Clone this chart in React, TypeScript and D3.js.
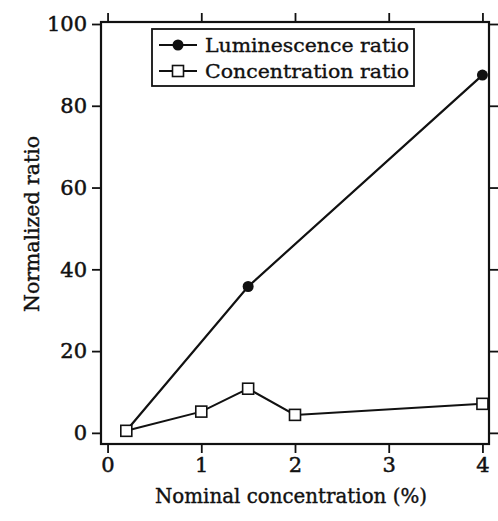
import {useEffect, useRef} from "react";
import * as d3 from 'd3';

// values
const lumX = [0.2, 1.5, 4];
const lumY = [0.5, 35.8, 87.5];
const concX = [0.2, 1, 1.5, 2, 4];
const concY = [0.5, 5.2, 10.8, 4.4, 7.1];
const xTicks = [0, 1, 2, 3, 4];
const yTicks = [0, 20, 40, 60, 80, 100];
const legendLabels = ["Luminescence ratio", "Concentration ratio"];

export default function App() {
  const svgRef = useRef<SVGSVGElement>(null);
  const width = 498;
  const height = 521;

  useEffect(() => {
    d3.select(svgRef.current).selectAll('*').remove();
    const svg = d3.select(svgRef.current);

    const left = 101, right = 489, top = 22, bottom = 444;
    const font = '"DejaVu Serif", "Liberation Serif", serif';
    const ink = '#111';

    const x = d3.scaleLinear().domain([-0.07, 4.07]).range([left, right]);
    const y = d3.scaleLinear().domain([-2.6, 100]).range([443.5, 24]);

    // frame
    svg.append('rect')
      .attr('x', left).attr('y', top)
      .attr('width', right - left).attr('height', bottom - top)
      .attr('fill', 'none').attr('stroke', ink).attr('stroke-width', 2.2);

    const g = svg.append('g');

    const xb = g.append('g').attr('transform', `translate(0,${bottom})`)
      .call(d3.axisBottom(x).tickValues(xTicks).tickSize(9).tickPadding(4).tickFormat(d3.format('d')));
    const xt = g.append('g').attr('transform', `translate(0,${top})`)
      .call(d3.axisTop(x).tickValues(xTicks).tickSize(9).tickFormat(() => ''));
    const yl = g.append('g').attr('transform', `translate(${left},0)`)
      .call(d3.axisLeft(y).tickValues(yTicks).tickSize(9).tickPadding(5));
    const yr = g.append('g').attr('transform', `translate(${right},0)`)
      .call(d3.axisRight(y).tickValues(yTicks).tickSize(9).tickFormat(() => ''));

    [xb, xt, yl, yr].forEach(a => {
      a.select('.domain').remove();
      a.selectAll('line').attr('stroke', ink).attr('stroke-width', 1.8);
      a.selectAll('text').attr('fill', ink)
        .attr('stroke', ink).attr('stroke-width', 0.5)
        .style('font-family', font).style('font-size', '21px');
    });

    // axis titles
    svg.append('text')
      .attr('x', 291).attr('y', 503)
      .attr('text-anchor', 'middle')
      .style('font-family', font).style('font-size', '20px')
      .attr('fill', ink).attr('stroke', ink).attr('stroke-width', 0.4)
      .attr('textLength', 272).attr('lengthAdjust', 'spacingAndGlyphs')
      .text('Nominal concentration (%)');
    svg.append('text')
      .attr('transform', `translate(39,224) rotate(-90)`)
      .attr('text-anchor', 'middle')
      .style('font-family', font).style('font-size', '20px')
      .attr('fill', ink).attr('stroke', ink).attr('stroke-width', 0.4)
      .attr('textLength', 176).attr('lengthAdjust', 'spacingAndGlyphs')
      .text('Normalized ratio');

    const line = d3.line<[number, number]>();

    // luminescence series
    const lumPts: [number, number][] = lumX.map((v, i) => [x(v), y(lumY[i])]);
    svg.append('path')
      .attr('d', line(lumPts))
      .attr('fill', 'none').attr('stroke', ink).attr('stroke-width', 2.2);
    svg.selectAll('.lum').data(lumPts).enter().append('circle')
      .attr('cx', d => d[0]).attr('cy', d => d[1]).attr('r', 5.5)
      .attr('fill', ink);

    // concentration series
    const concPts: [number, number][] = concX.map((v, i) => [x(v), y(concY[i])]);
    svg.append('path')
      .attr('d', line(concPts))
      .attr('fill', 'none').attr('stroke', ink).attr('stroke-width', 2);
    svg.selectAll('.conc').data(concPts).enter().append('rect')
      .attr('x', d => d[0] - 5.5).attr('y', d => d[1] - 5.5)
      .attr('width', 11).attr('height', 11)
      .attr('fill', 'white').attr('stroke', ink).attr('stroke-width', 1.6);

    // legend
    const lg = svg.append('g');
    lg.append('rect')
      .attr('x', 152).attr('y', 29).attr('width', 262).attr('height', 57)
      .attr('fill', 'white').attr('stroke', ink).attr('stroke-width', 1.8);
    legendLabels.forEach((lab, i) => {
      const cy = 45 + i * 26;
      lg.append('line')
        .attr('x1', 159).attr('x2', 197).attr('y1', cy).attr('y2', cy)
        .attr('stroke', ink).attr('stroke-width', 2);
      if (i === 0) {
        lg.append('circle').attr('cx', 178).attr('cy', cy).attr('r', 5.5).attr('fill', ink);
      } else {
        lg.append('rect').attr('x', 172.5).attr('y', cy - 5.5).attr('width', 11).attr('height', 11)
          .attr('fill', 'white').attr('stroke', ink).attr('stroke-width', 1.6);
      }
      lg.append('text')
        .attr('x', 205).attr('y', cy + 7)
        .style('font-family', font).style('font-size', '19px')
        .attr('fill', ink).attr('stroke', ink).attr('stroke-width', 0.35)
        .attr('textLength', 204).attr('lengthAdjust', 'spacingAndGlyphs')
        .text(lab);
    });
  }, []);

  return (
    <div>
      <svg ref={svgRef} width={width} height={height} style={{position: 'absolute', left: 0, top: 0, background: 'white'}}></svg>
    </div>
  );
}
